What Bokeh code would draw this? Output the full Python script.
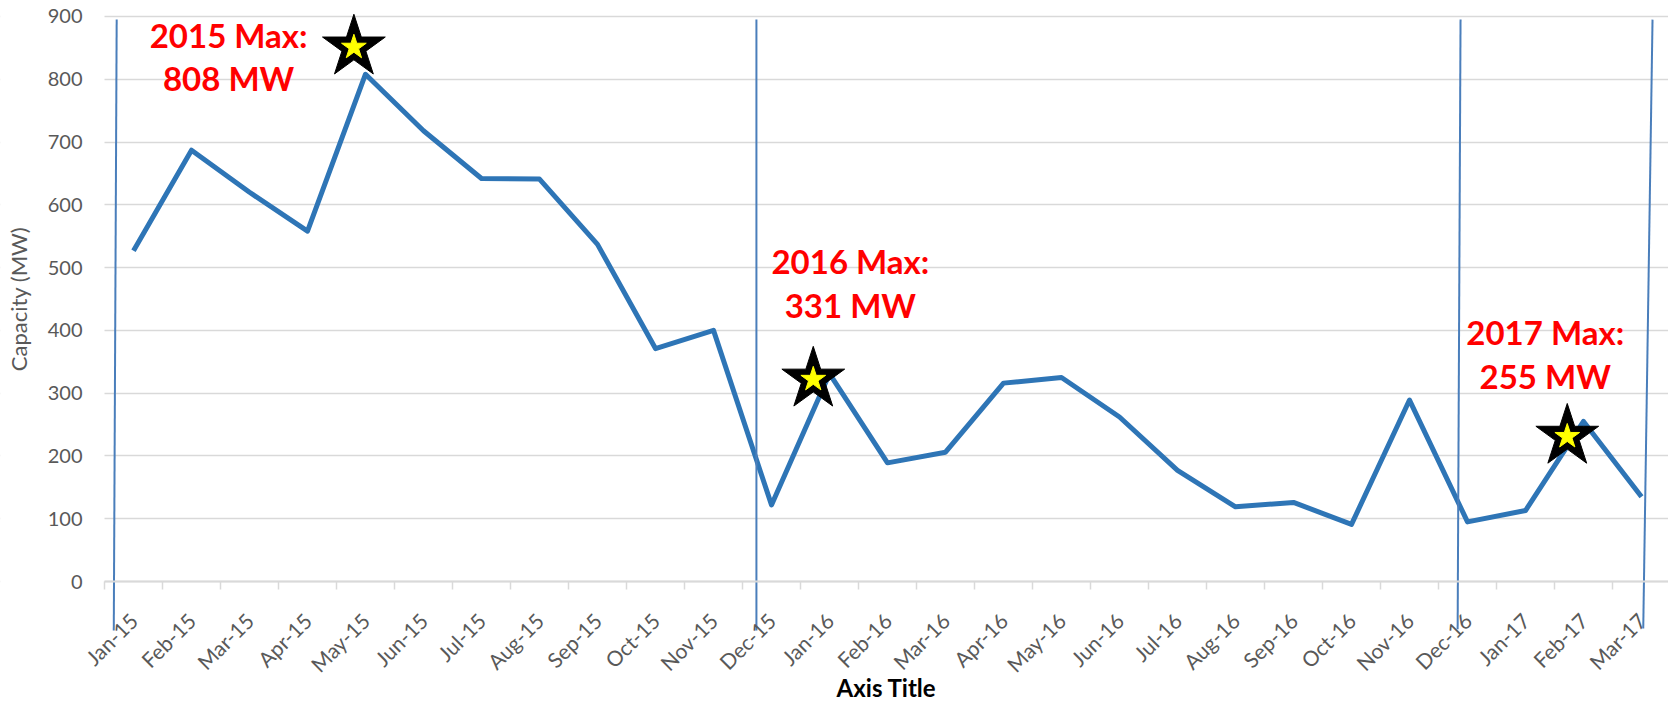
from bokeh.plotting import figure
from bokeh.models import Range1d, FixedTicker, BoxAnnotation
from bokeh.core.properties import value
from bokeh.embed import file_html
from bokeh.resources import INLINE

# ---- data ----
months = ["Jan-15", "Feb-15", "Mar-15", "Apr-15", "May-15", "Jun-15", "Jul-15",
          "Aug-15", "Sep-15", "Oct-15", "Nov-15", "Dec-15", "Jan-16", "Feb-16",
          "Mar-16", "Apr-16", "May-16", "Jun-16", "Jul-16", "Aug-16", "Sep-16",
          "Oct-16", "Nov-16", "Dec-16", "Jan-17", "Feb-17", "Mar-17"]
capacity = [527, 687, 620, 558, 808, 718, 642, 641, 537, 371, 400, 122, 331, 189,
            206, 316, 325, 262, 177, 119, 126, 91, 289, 95, 113, 255, 135]
y_ticks = [0, 100, 200, 300, 400, 500, 600, 700, 800, 900]

# yearly-max callouts (hand placed shapes in the original)
callout_line1 = ["2015 Max:", "2016 Max:", "2017 Max:"]
callout_line2 = ["808 MW", "331 MW", "255 MW"]
callout_x = [2.14, 12.86, 24.84]
callout_y1 = [871, 510, 397]
callout_y2 = [802, 441, 328]
star_x = [4.30, 12.22, 25.22]
star_y = [851, 322, 231]

# hand-drawn year separator lines
sep_x_top = [0.21, 11.24, 23.38, 26.69]
sep_x_bottom = [0.16, 11.24, 23.33, 26.53]
sep_y_top = [895, 895, 895, 895]
sep_y_bottom = [-78, -78, -76, -75]

centers = [i + 0.5 for i in range(len(months))]
bounds = list(range(len(months) + 1))

FONT = "Lato"
GRAY = "#595959"
GRID = "#D9D9D9"

W, H = 1668, 705
# the frame covers the whole canvas; axes are drawn at fixed locations inside it
X0, X1 = -104 / 58.0, (W - 104) / 58.0
Y0, Y1 = (581 - H) / 0.6278, 581 / 0.6278

p = figure(width=W, height=H,
           x_range=Range1d(X0, X1), y_range=Range1d(Y0, Y1),
           output_backend="svg", toolbar_location=None,
           min_border=0, min_border_left=0, min_border_right=0,
           min_border_top=0, min_border_bottom=0)
p.outline_line_color = None
p.background_fill_color = "white"
p.border_fill_color = "white"

# grids
p.xgrid.visible = False
p.ygrid.ticker = FixedTicker(ticks=y_ticks)
p.ygrid.grid_line_color = GRID
p.ygrid.grid_line_width = 1.5
# keep gridlines inside the plot area (left of the category axis is margin)
p.add_layout(BoxAnnotation(left=X0, right=0, fill_color="white", fill_alpha=1.0,
                           line_color=None, level="underlay"))

# x axis
xa = p.xaxis[0]
xa.fixed_location = 0
xa.bounds = (0, len(months))
xa.ticker = FixedTicker(ticks=centers, minor_ticks=bounds)
xa.major_label_overrides = {c: m for c, m in zip(centers, months)}
xa.major_label_orientation = 0.785398
xa.major_tick_line_color = None
xa.major_tick_out = 0
xa.major_tick_in = 0
xa.minor_tick_line_color = GRID
xa.minor_tick_line_width = 1.5
xa.minor_tick_out = 8
xa.minor_tick_in = 0
xa.axis_line_color = GRID
xa.axis_line_width = 2
xa.major_label_text_font = FONT
xa.major_label_text_font_size = "21px"
xa.major_label_text_color = GRAY
xa.major_label_standoff = 27
xa.axis_label = "Axis Title"
xa.axis_label_text_font = FONT
xa.axis_label_text_font_size = "24px"
xa.axis_label_text_font_style = "bold"
xa.axis_label_text_color = "black"
xa.axis_label_standoff = -15

# y axis
ya = p.yaxis[0]
ya.fixed_location = 0
ya.bounds = (0, 900)
ya.ticker = FixedTicker(ticks=y_ticks)
ya.axis_line_color = None
ya.major_tick_line_color = None
ya.minor_tick_line_color = None
ya.major_tick_out = 0
ya.major_tick_in = 0
ya.major_label_standoff = 22
ya.major_label_text_font = FONT
ya.major_label_text_font_size = "20px"
ya.major_label_text_color = GRAY
ya.axis_label = "Capacity (MW)"
ya.axis_label_text_font = FONT
ya.axis_label_text_font_size = "22px"
ya.axis_label_text_font_style = "normal"
ya.axis_label_text_color = GRAY
ya.axis_label_standoff = 13

# series
p.line(x=centers, y=capacity, line_width=5, line_color="#2E75B6", line_join="round")

# separators
p.segment(x0=sep_x_top, y0=sep_y_top, x1=sep_x_bottom, y1=sep_y_bottom,
          line_color="#4A7EBB", line_width=2)

# stars
p.scatter(x=star_x, y=star_y, marker="star", size=66, fill_color="black", line_color="black")
p.scatter(x=star_x, y=star_y, marker="star", size=26, fill_color="#FFFF00", line_color="#FFFF00")

# callouts
for ys, texts in ((callout_y1, callout_line1), (callout_y2, callout_line2)):
    p.text(x=callout_x, y=ys, text=texts, text_font=value(FONT), text_font_size="33px",
           text_font_style="bold", text_color="#FF0000", text_align="center",
           text_baseline="middle")

open("out.html", "w").write(file_html(p, INLINE))
